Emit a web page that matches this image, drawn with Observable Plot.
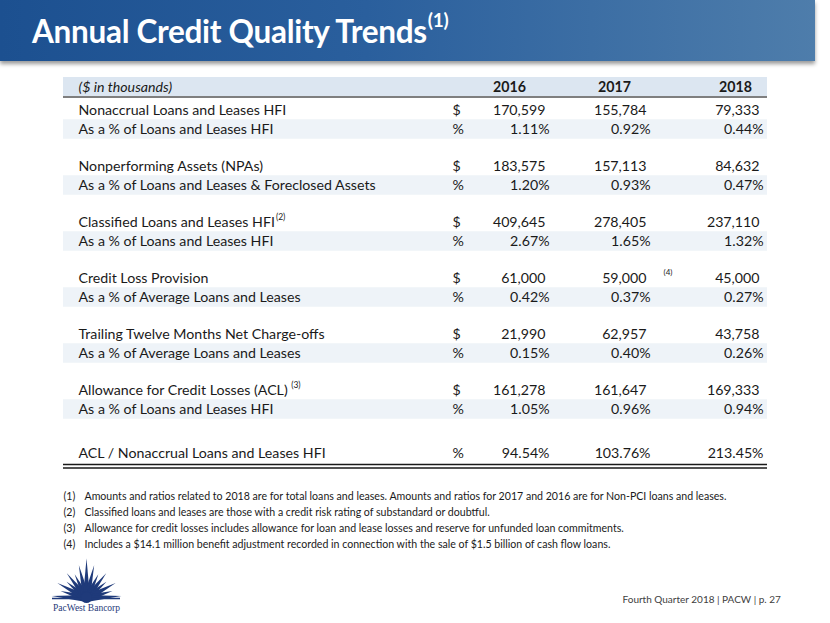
<!DOCTYPE html>
<html><head><meta charset="utf-8">
<script src="https://cdn.jsdelivr.net/npm/d3@7"></script>
<script src="https://cdn.jsdelivr.net/npm/@observablehq/plot@0.6"></script>
<style>
body{margin:0;width:830px;height:623px;position:relative;overflow:hidden;background:#fff;font-family:Lato,sans-serif}
#banner{position:absolute;left:0;top:0;width:815px;height:61px;background:linear-gradient(90deg,#1c5090 0%,#2a5f9d 45%,#4e7dab 100%);box-shadow:0 3px 4px rgba(0,0,0,0.4)}
#title{position:absolute;left:32px;top:12px;color:#fff;font-family:Lato,sans-serif;font-weight:700;font-size:31.5px;white-space:nowrap;letter-spacing:-0.3px}
#title sup{font-size:19px;vertical-align:top;position:relative;top:-4px;margin-left:1px}
#chart{position:absolute;left:0;top:0}
</style></head>
<body>
<div id="banner"></div>
<div id="title">Annual Credit Quality Trends<sup>(1)</sup></div>
<div id="chart"></div>
<script>
// ---------- data ----------
const headerLabel = "($ in thousands)";
const years = ["2016", "2017", "2018"];
const labels = [
  "Nonaccrual Loans and Leases HFI",
  "As a % of Loans and Leases HFI",
  "Nonperforming Assets (NPAs)",
  "As a % of Loans and Leases & Foreclosed Assets",
  "Classified Loans and Leases HFI",
  "As a % of Loans and Leases HFI",
  "Credit Loss Provision",
  "As a % of Average Loans and Leases",
  "Trailing Twelve Months Net Charge-offs",
  "As a % of Average Loans and Leases",
  "Allowance for Credit Losses (ACL)",
  "As a % of Loans and Leases HFI",
  "ACL / Nonaccrual Loans and Leases HFI"
];
const labelNotes = ["", "", "", "", "(2)", "", "", "", "", "", " (3)", "", ""];
const units = ["$", "%", "$", "%", "$", "%", "$", "%", "$", "%", "$", "%", "%"];
const v2016 = [170599, 1.11, 183575, 1.20, 409645, 2.67, 61000, 0.42, 21990, 0.15, 161278, 1.05, 94.54];
const v2017 = [155784, 0.92, 157113, 0.93, 278405, 1.65, 59000, 0.37, 62957, 0.40, 161647, 0.96, 103.76];
const v2018 = [79333, 0.44, 84632, 0.47, 237110, 1.32, 45000, 0.27, 43758, 0.26, 169333, 0.94, 213.45];
const valueNotes2017 = ["", "", "", "", "", "", "(4)", "", "", "", "", "", ""];
const footnoteMarks = ["(1)", "(2)", "(3)", "(4)"];
const footnotes = [
  "Amounts and ratios related to 2018 are for total loans and leases. Amounts and ratios for 2017 and 2016 are for Non-PCI loans and leases.",
  "Classified loans and leases are those with a credit risk rating of substandard or doubtful.",
  "Allowance for credit losses includes allowance for loan and lease losses and reserve for unfunded loan commitments.",
  "Includes a $14.1 million benefit adjustment recorded in connection with the sale of $1.5 billion of cash flow loans."
];
const footerText = "Fourth Quarter 2018 | PACW | p. 27";
const logoText = "PacWest Bancorp";
const rayAngles = [-86, -74, -62, -50, -38, -26, -13, 0, 13, 26, 38, 50, 62, 74, 86];
const rayLengths = [35, 27, 33, 26, 32, 27, 34, 40, 34, 27, 32, 26, 33, 27, 35];

// ---------- layout ----------
const W = 830, H = 623;
const FONT = "Lato, sans-serif";
const labelFS = 14.2;
const tableL = 63, tableR = 767;
const labelX = 78, unitX = 452;
const pctRight = [549, 650, 763];
const dollarShift = -4;
const yearCenter = [509, 614, 735];
const headerY = 87;
const rowY = i => 110 + Math.floor(i / 2) * 56 + (i % 2) * 19 + (i === 12 ? 7 : 0);
const rowH = 19.5;

const ctx = document.createElement("canvas").getContext("2d");
const measure = (s, fs, weight = "normal") => { ctx.font = `${weight} ${fs}px ${FONT}`; return ctx.measureText(s).width; };

const fmtD = d3.format(",");
const fmtP = v => v.toFixed(2) + "%";

const rows = labels.map((label, i) => ({
  i, label, unit: units[i], note: labelNotes[i], y: rowY(i), shaded: i % 2 === 1 && i < 12,
  vals: [v2016[i], v2017[i], v2018[i]]
}));
const cells = rows.flatMap(r => r.vals.map((v, j) => ({
  y: r.y, text: r.unit === "$" ? fmtD(v) : fmtP(v),
  x: pctRight[j] + (r.unit === "$" ? dollarShift : 0)
})));
const notesLbl = rows.filter(r => r.note).map(r => ({ text: r.note, x: labelX + measure(r.label, labelFS) + 1, y: r.y - 5 }));
const notesVal = rows.filter(r => valueNotes2017[r.i]).map(r => ({ text: valueNotes2017[r.i], x: 663, y: r.y - 6 }));
const fnRows = footnotes.map((t, k) => ({ mark: footnoteMarks[k], text: t, y: 496 + k * 16 }));
const logoCx = 86, logoCy = 598;
const rays = rayAngles.map((a, k) => ({ rotate: a, length: rayLengths[k] }));

const plot = Plot.plot({
  width: W, height: H, margin: 0,
  x: { domain: [0, W], range: [0, W], axis: null },
  y: { domain: [0, H], range: [0, H], axis: null },
  length: { type: "identity" },
  style: { background: "transparent", fontFamily: FONT, overflow: "visible" },
  marks: [
    // header band and rule
    Plot.rect([0], { x1: tableL, x2: tableR, y1: 77, y2: 96, fill: "#dce6f1" }),
    Plot.ruleY([96.5], { x1: tableL, x2: tableR, stroke: "#7f7f7f", strokeWidth: 2 }),
    // shaded rows
    Plot.rect(rows.filter(r => r.shaded), { x1: tableL, x2: tableR, y1: r => r.y - rowH / 2, y2: r => r.y + rowH / 2, fill: "#eef3f8" }),
    // bottom double rule
    Plot.ruleY([464, 467.5], { x1: tableL, x2: tableR, stroke: "#1a1a1a", strokeWidth: 1.3 }),
    // header text
    Plot.text([headerLabel], { x: labelX, y: headerY, text: d => d, textAnchor: "start", fontStyle: "italic", fontSize: labelFS, fill: "#1a1a1a" }),
    Plot.text(years, { x: (d, j) => yearCenter[j], y: headerY, text: d => d, fontWeight: "bold", fontSize: labelFS, fill: "#1a1a1a" }),
    // labels, units, values
    Plot.text(rows, { x: labelX, y: "y", text: "label", textAnchor: "start", fontSize: labelFS, fill: "#1a1a1a" }),
    Plot.text(notesLbl, { x: "x", y: "y", text: "text", textAnchor: "start", fontSize: 8.5, fill: "#1a1a1a" }),
    Plot.text(rows, { x: unitX, y: "y", text: "unit", textAnchor: "start", fontSize: labelFS, fill: "#1a1a1a" }),
    Plot.text(cells, { x: "x", y: "y", text: "text", textAnchor: "end", fontSize: labelFS, fill: "#1a1a1a" }),
    Plot.text(notesVal, { x: "x", y: "y", text: "text", textAnchor: "start", fontSize: 8, fill: "#1a1a1a" }),
    // footnotes
    Plot.text(fnRows, { x: 63, y: "y", text: "mark", textAnchor: "start", fontSize: 10.6, fill: "#1a1a1a" }),
    Plot.text(fnRows, { x: 84, y: "y", text: "text", textAnchor: "start", fontSize: 10.6, fill: "#1a1a1a" }),
    // footer
    Plot.text([footerText], { x: 622, y: 599, text: d => d, textAnchor: "start", fontSize: 10, fill: "#404040" }),
    // logo
    Plot.vector(rays, { x: logoCx, y: logoCy, rotate: "rotate", length: "length", anchor: "start", shape: "spike", r: 3.6, fill: "#1f3a7a", stroke: "none" }),
    Plot.ruleY([logoCy], { x1: logoCx - 34, x2: logoCx + 34, stroke: "#1f3a7a", strokeWidth: 1.5 }),
    Plot.dot([0], { x: logoCx, y: logoCy - 1, r: 5.5, fill: "#1f3a7a" }),
    Plot.text([logoText], { x: logoCx, y: 607, text: d => d, fontFamily: "Liberation Serif, serif", fontSize: 9.5, fill: "#1f3a7a" })
  ]
});
document.getElementById("chart").appendChild(plot);
</script>
</body></html>
